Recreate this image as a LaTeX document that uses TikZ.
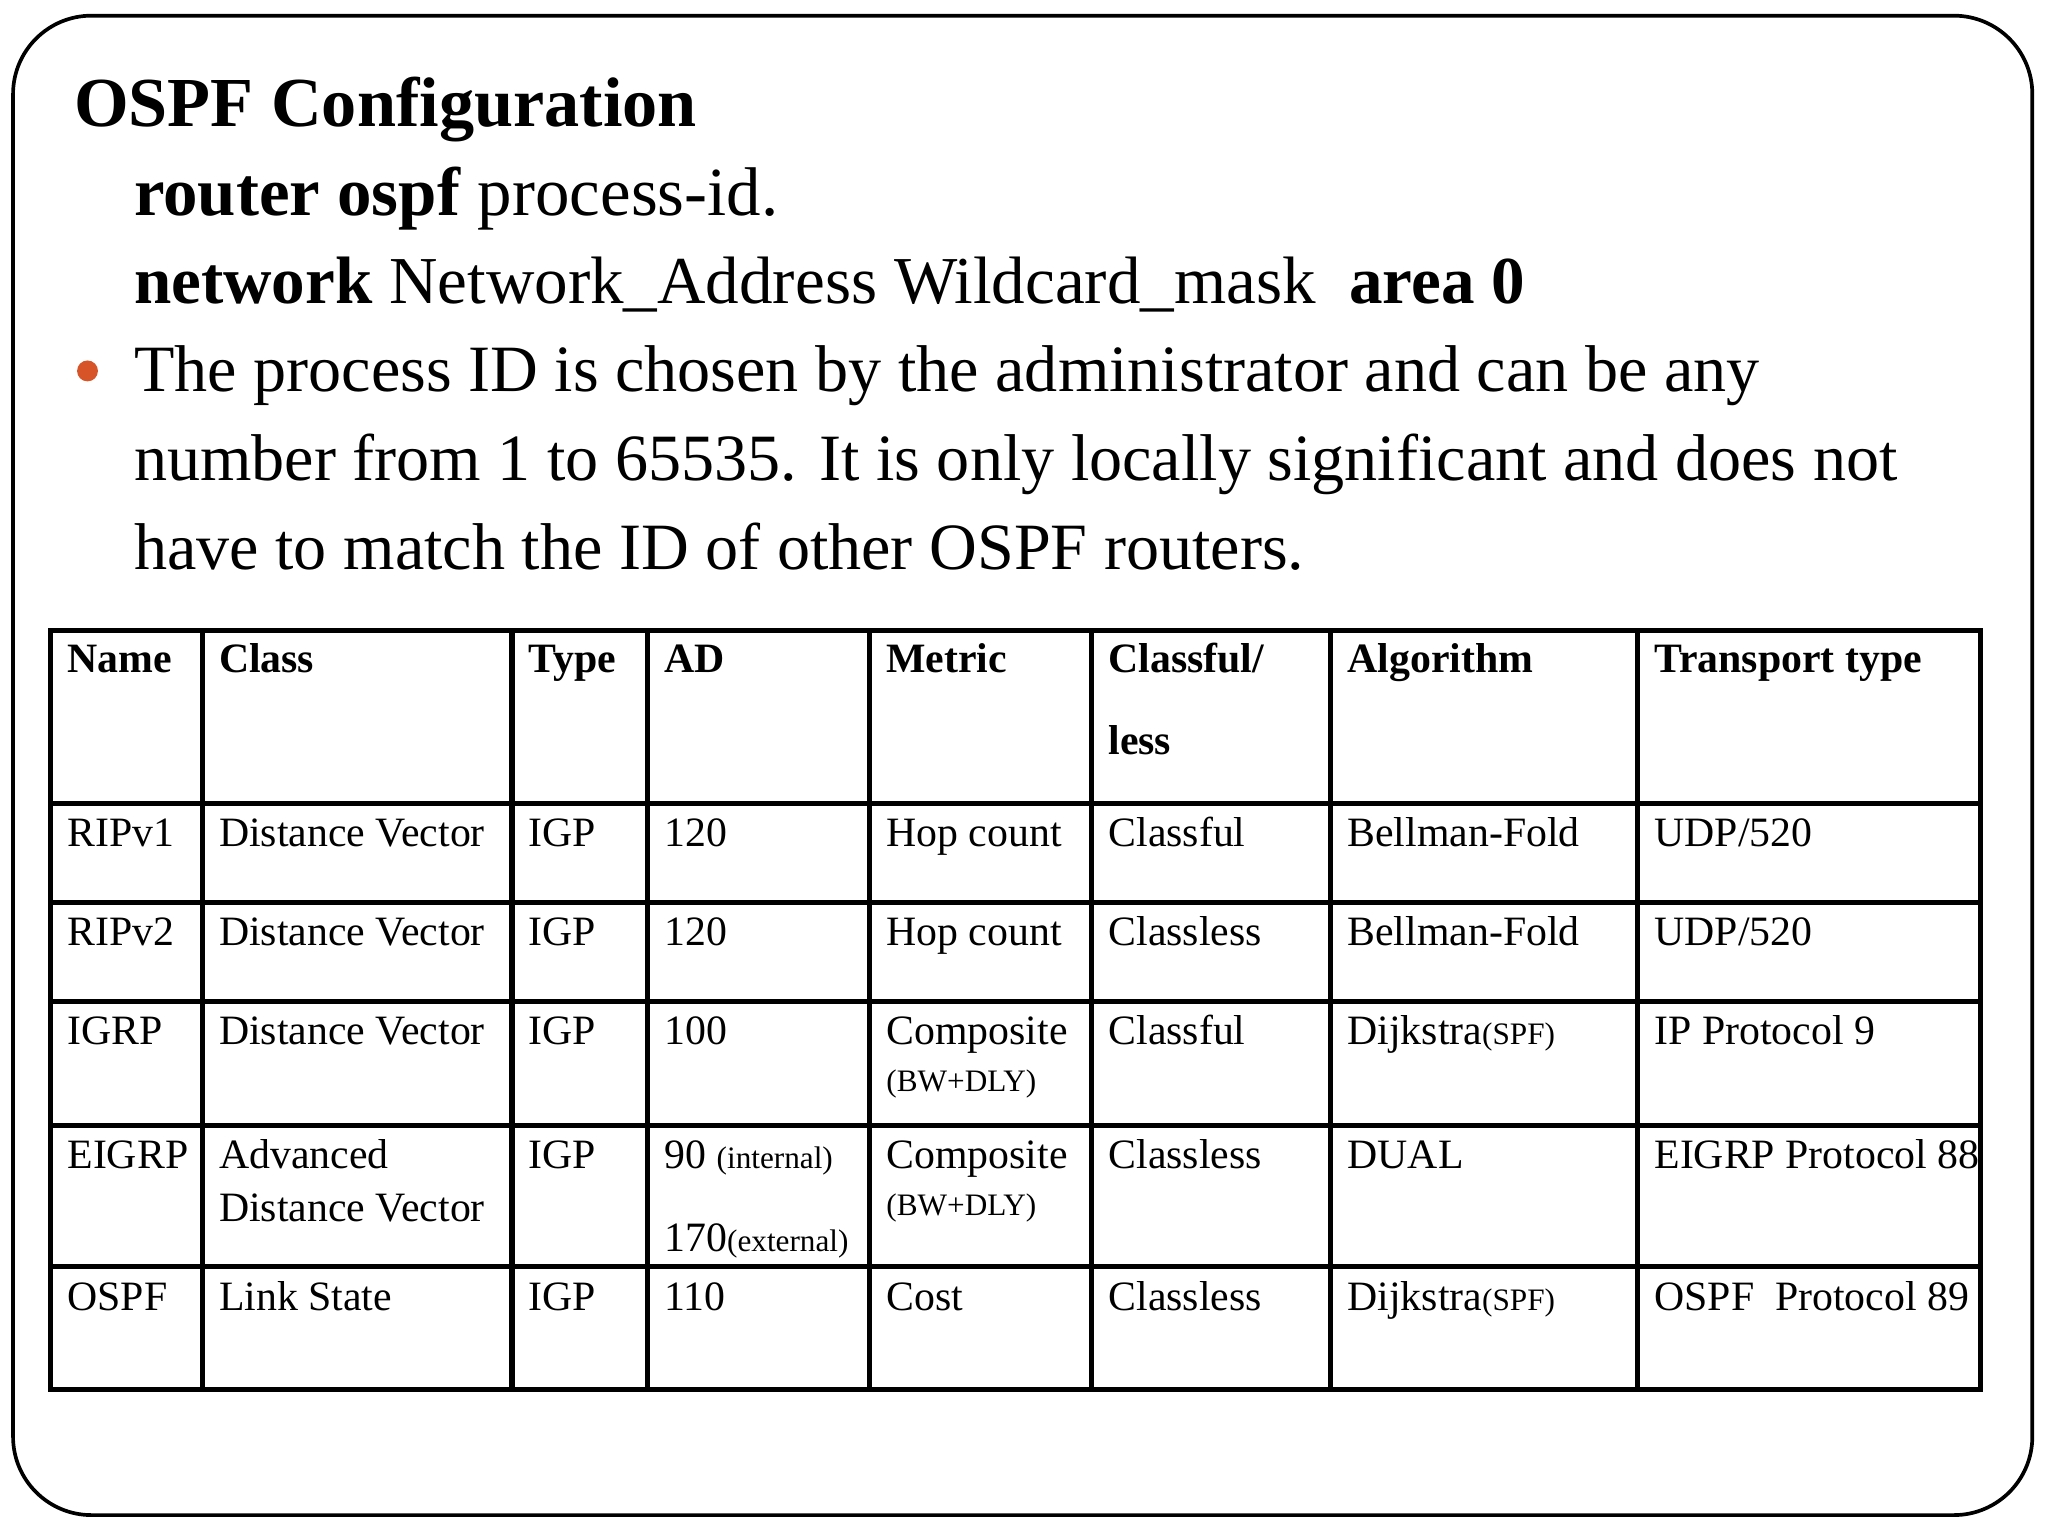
\documentclass[tikz,border=0pt]{standalone}
\usepackage{fontspec}
\setmainfont{Liberation Serif}
\definecolor{bul}{RGB}{214,84,40}
\begin{document}
\begin{tikzpicture}[x=0.01cm,y=-0.01cm,
  big/.style={anchor=base west,inner sep=0,font=\fontsize{14.4}{17}\selectfont},
  cell/.style={anchor=base west,inner sep=0,font=\fontsize{9.1}{11}\selectfont},
  hd/.style={cell,font=\fontsize{9.1}{11}\selectfont\bfseries},
  sm/.style={font=\fontsize{6.8}{8}\selectfont}]
\useasboundingbox (0,0) rectangle (1568,1176);
\draw[line width=0.8pt,rounded corners=0.6cm] (10,12) rectangle (1556,1160);
\node[big,font=\fontsize{15.3}{18}\selectfont\bfseries] (t) at (56,97) {OSPF Configuration};
\node[big,font=\fontsize{15}{18}\selectfont] (l1) at (102,165) {\textbf{router ospf} process-id.};
\node[big,font=\fontsize{14.6}{18}\selectfont] (l2) at (102,232) {\textbf{network} Network\_Address Wildcard\_mask\ \ \textbf{area 0}};
\fill[bul] (67,284) circle (8);
\node[big] (b1) at (102,300) {The process ID is chosen by the administrator and can be any};
\node[big] (b2) at (102,368) {number from 1 to 65535. It is only locally significant and does not};
\node[big] (b3) at (102,436) {have to match the ID of other OSPF routers.};
% table
\draw[line width=1.1pt] (39,483) rectangle (1516,1064);
\foreach \y in {615,691,767,862,970} \draw[line width=1.1pt] (39,\y) -- (1516,\y);
\foreach \x in {155,392,496,666,836,1019,1254} \draw[line width=1.1pt] (\x,483) -- (\x,1064);
\foreach \t/\x in {Name/51,Class/167,Type/404,AD/508,Metric/678,{Classful/}/848,Algorithm/1031,Transport type/1266}
  \node[hd] at (\x,515) {\t};
\node[hd] (less) at (848,578) {less};
\foreach \y/\a/\b/\c/\d/\e/\f/\g/\h in {
  648/RIPv1/Distance Vector/IGP/120/Hop count/Classful/Bellman-Fold/UDP\slash 520,
  724/RIPv2/Distance Vector/IGP/120/Hop count/Classless/Bellman-Fold/UDP\slash 520,
  800/IGRP/Distance Vector/IGP/100/Composite/Classful/Dijkstra{\fontsize{6.8}{8}\selectfont(SPF)}/IP Protocol 9,
  895/EIGRP/Advanced/IGP/90 {\fontsize{6.8}{8}\selectfont(internal)}/Composite/Classless/DUAL/EIGRP Protocol 88,
  1003/OSPF/Link State/IGP/110/Cost/Classless/Dijkstra{\fontsize{6.8}{8}\selectfont(SPF)}/OSPF\ \ Protocol 89}{
  \node[cell] at (51,\y) {\a};
  \node[cell] at (167,\y) {\b};
  \node[cell] at (404,\y) {\c};
  \node[cell] at (508,\y) {\d};
  \node[cell] at (678,\y) {\e};
  \node[cell] at (848,\y) {\f};
  \node[cell] at (1031,\y) {\g};
  \node[cell] at (1266,\y) {\h};
}
\node[cell,sm] (bw1) at (678,836) {(BW+DLY)};
\node[cell,sm] (bw2) at (678,931) {(BW+DLY)};
\node[cell] (dv) at (167,935) {Distance Vector};
\node[cell] (ext) at (508,958) {170{\fontsize{6.8}{8}\selectfont(external)}};
\end{tikzpicture}
\end{document}
